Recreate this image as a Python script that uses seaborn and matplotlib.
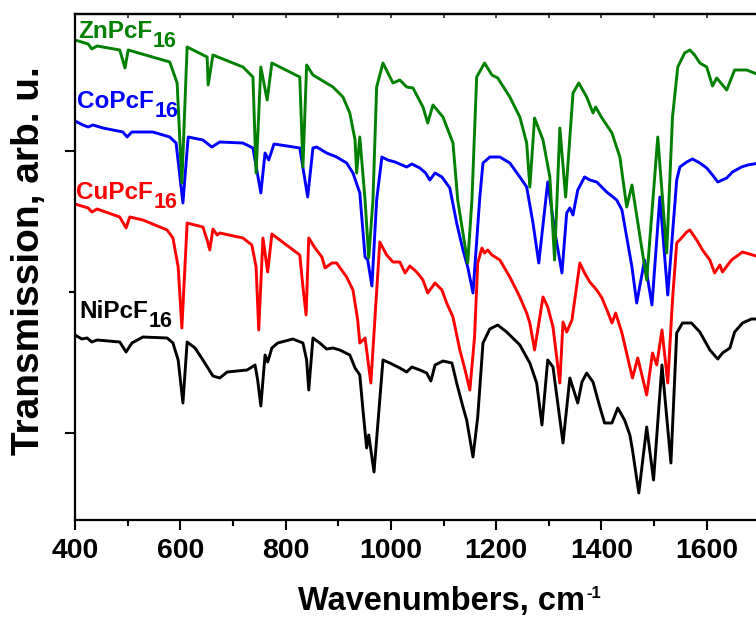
"""
FTIR spectra of MPcF16 (M = Zn, Co, Cu, Ni), stacked with offsets
"""
import matplotlib
matplotlib.use('Agg')
import matplotlib.pyplot as plt
import pandas as pd
import seaborn as sns
from matplotlib.ticker import FixedLocator

# (wavenumber cm-1, transmission arb. u. incl. offset)
ZN_PCF16 = [(400, 480), (425, 476), (432, 471), (442, 474), (485, 470), (495, 452), (501, 470), (580, 458),
            (594, 437), (603, 337), (613, 473), (651, 463), (653, 435), (662, 465), (719, 453), (738, 443),
            (744, 347), (753, 453), (765, 420), (774, 457), (827, 443), (833, 353), (840, 455), (852, 445),
            (890, 433), (909, 423), (922, 407), (932, 380), (935, 347), (941, 383), (951, 320), (958, 262),
            (966, 320), (973, 433), (985, 457), (1004, 437), (1017, 440), (1030, 433), (1042, 432),
            (1061, 413), (1070, 397), (1080, 415), (1099, 403), (1118, 377), (1127, 320), (1146, 257),
            (1154, 320), (1163, 443), (1178, 457), (1192, 445), (1203, 442), (1226, 423), (1245, 403),
            (1258, 377), (1264, 333), (1273, 402), (1289, 380), (1302, 343), (1311, 260), (1321, 392),
            (1332, 323), (1346, 427), (1357, 437), (1372, 423), (1384, 407), (1389, 413), (1401, 402),
            (1420, 387), (1435, 363), (1448, 313), (1458, 335), (1486, 240), (1507, 383), (1524, 267),
            (1535, 403), (1545, 453), (1558, 467), (1568, 470), (1577, 465), (1587, 457), (1600, 453),
            (1611, 434), (1619, 442), (1638, 430), (1653, 450), (1676, 450), (1700, 445)]

CO_PCF16 = [(400, 399), (415, 395), (425, 393), (434, 395), (453, 392), (491, 388), (499, 383), (508, 388),
            (548, 388), (580, 383), (592, 377), (605, 317), (615, 383), (643, 380), (660, 373), (675, 378),
            (719, 377), (738, 372), (753, 327), (761, 367), (768, 360), (778, 376), (827, 372), (842, 323),
            (852, 372), (859, 373), (878, 367), (897, 363), (916, 357), (928, 347), (941, 327), (951, 263),
            (956, 260), (964, 234), (973, 320), (983, 363), (994, 360), (1008, 358), (1030, 353),
            (1040, 356), (1055, 352), (1066, 347), (1074, 340), (1084, 347), (1097, 343), (1112, 332),
            (1125, 297), (1137, 270), (1146, 253), (1156, 227), (1169, 323), (1175, 357), (1188, 363),
            (1207, 363), (1226, 357), (1245, 343), (1258, 333), (1270, 297), (1281, 257), (1298, 338),
            (1311, 290), (1325, 247), (1334, 307), (1340, 312), (1346, 305), (1355, 330), (1368, 343),
            (1378, 340), (1391, 338), (1410, 328), (1429, 320), (1439, 310), (1448, 283), (1458, 253),
            (1467, 217), (1482, 260), (1496, 215), (1511, 323), (1526, 225), (1543, 340), (1549, 353),
            (1562, 358), (1573, 361), (1587, 357), (1600, 352), (1611, 345), (1621, 338), (1638, 342),
            (1649, 348), (1666, 353), (1678, 355), (1700, 357)]

CU_PCF16 = [(400, 316), (425, 312), (432, 308), (442, 311), (485, 303), (497, 292), (504, 303), (529, 300),
            (575, 290), (586, 282), (596, 253), (603, 192), (613, 297), (643, 293), (651, 280), (656, 270),
            (662, 291), (670, 285), (675, 287), (719, 282), (736, 275), (744, 253), (749, 190), (757, 282),
            (766, 248), (774, 286), (827, 265), (833, 233), (839, 205), (844, 282), (856, 272), (869, 263),
            (875, 252), (888, 257), (897, 257), (916, 243), (928, 230), (937, 200), (941, 177), (951, 182),
            (962, 137), (972, 220), (979, 278), (992, 265), (1004, 258), (1017, 258), (1027, 247),
            (1036, 254), (1049, 248), (1061, 240), (1070, 227), (1084, 237), (1097, 230), (1106, 217),
            (1118, 203), (1131, 170), (1141, 150), (1150, 130), (1159, 183), (1165, 257), (1173, 272),
            (1178, 267), (1184, 270), (1192, 265), (1207, 260), (1226, 243), (1245, 223), (1258, 207),
            (1264, 197), (1273, 170), (1283, 203), (1289, 223), (1298, 213), (1308, 193), (1321, 137),
            (1327, 198), (1334, 188), (1344, 200), (1359, 257), (1368, 247), (1378, 238), (1391, 230),
            (1401, 222), (1412, 208), (1420, 197), (1427, 207), (1439, 187), (1454, 153), (1459, 142),
            (1469, 162), (1486, 125), (1497, 167), (1505, 155), (1515, 190), (1526, 137), (1535, 220),
            (1543, 277), (1552, 282), (1562, 288), (1568, 290), (1581, 280), (1592, 270), (1606, 260),
            (1615, 247), (1625, 255), (1630, 248), (1647, 260), (1668, 268), (1700, 263)]

NI_PCF16 = [(400, 185), (413, 181), (423, 182), (432, 178), (442, 180), (485, 178), (497, 168), (508, 177),
            (529, 183), (575, 182), (586, 177), (596, 160), (605, 117), (613, 178), (628, 172), (643, 160),
            (662, 144), (675, 142), (689, 148), (727, 150), (742, 155), (747, 140), (753, 114), (761, 165),
            (766, 158), (774, 172), (785, 177), (814, 181), (833, 177), (840, 160), (844, 130), (852, 182),
            (865, 177), (878, 171), (890, 172), (903, 170), (922, 165), (932, 152), (941, 145), (947, 110),
            (954, 72), (958, 85), (968, 48), (985, 160), (998, 157), (1017, 152), (1030, 148), (1040, 153),
            (1055, 150), (1068, 147), (1076, 139), (1084, 155), (1099, 159), (1116, 157), (1125, 137),
            (1137, 113), (1144, 100), (1156, 63), (1165, 103), (1175, 177), (1188, 191), (1203, 195),
            (1220, 188), (1245, 175), (1264, 157), (1277, 137), (1287, 95), (1298, 160), (1308, 153),
            (1327, 77), (1340, 142), (1355, 117), (1363, 138), (1372, 147), (1384, 138), (1397, 113),
            (1406, 97), (1420, 97), (1431, 112), (1444, 100), (1454, 85), (1459, 70), (1471, 27), (1486, 93),
            (1499, 40), (1515, 155), (1532, 57), (1543, 187), (1554, 197), (1571, 197), (1587, 188),
            (1606, 170), (1621, 161), (1630, 167), (1644, 172), (1653, 188), (1668, 197), (1685, 201),
            (1700, 201)]

SAMPLES = ['NiPcF', 'CuPcF', 'CoPcF', 'ZnPcF']
SPECTRA = [NI_PCF16, CU_PCF16, CO_PCF16, ZN_PCF16]
COLORS = {'NiPcF': '#000000', 'CuPcF': '#ff0000', 'CoPcF': '#0000ff', 'ZnPcF': '#008000'}
# label baseline anchors (figure pixels, from top-left)
LABEL_POS = {'ZnPcF': (78, 38), 'CoPcF': (77, 108), 'CuPcF': (76, 199), 'NiPcF': (79, 318)}

X_LIMITS = (400, 1800)
X_MAJOR = [400, 600, 800, 1000, 1200, 1400, 1600]
X_MINOR = [500, 700, 900, 1100, 1300, 1500, 1700]
Y_LIMITS = (0, 506)
Y_MAJOR = [87, 369]
Y_MINOR = [228]

W, H = 756, 617

if __name__ == '__main__':
    frames = []
    for name, spectrum in zip(SAMPLES, SPECTRA):
        part = pd.DataFrame(spectrum, columns=['wavenumber', 'transmission'])
        part['sample'] = name
        frames.append(part)
    df = pd.concat(frames, ignore_index=True)

    sns.set_theme(style='ticks')
    plt.rcParams['font.family'] = ['Liberation Sans', 'DejaVu Sans']
    plt.rcParams['font.weight'] = 'bold'
    plt.rcParams['lines.solid_joinstyle'] = 'round'

    fig = plt.figure(figsize=(W / 100, H / 100), dpi=100)
    # axis runs to 1800 cm-1, the right part is cut off by the figure edge as in the source image
    ax = fig.add_axes([75 / W, 1 - 520 / H, 737 / W, 506 / H])

    sns.lineplot(data=df, x='wavenumber', y='transmission', hue='sample', hue_order=SAMPLES,
                 palette=COLORS, estimator=None, sort=False, linewidth=2.1, legend=False, ax=ax)

    ax.set_xlim(*X_LIMITS)
    ax.set_ylim(*Y_LIMITS)
    ax.set_xlabel('')
    ax.set_ylabel('')

    ax.xaxis.set_major_locator(FixedLocator(X_MAJOR))
    ax.xaxis.set_minor_locator(FixedLocator(X_MINOR))
    ax.yaxis.set_major_locator(FixedLocator(Y_MAJOR))
    ax.yaxis.set_minor_locator(FixedLocator(Y_MINOR))
    ax.set_yticklabels([])
    ax.tick_params(which='major', direction='out', length=7, width=1.5, color='black')
    ax.tick_params(which='minor', direction='out', length=4, width=1.5, color='black')
    ax.tick_params(axis='x', labelsize=20.5, pad=6, labelcolor='black')
    for lbl in ax.get_xticklabels():
        lbl.set_fontweight('bold')

    top = ax.secondary_xaxis('top')
    top.xaxis.set_major_locator(FixedLocator(X_MAJOR))
    top.xaxis.set_minor_locator(FixedLocator(X_MINOR))
    top.tick_params(which='both', direction='in', length=3, width=1.2, labeltop=False)
    top.spines['top'].set_linewidth(1.6)

    for side in ['left', 'bottom', 'top']:
        ax.spines[side].set_linewidth(1.6)
        ax.spines[side].set_color('black')
    ax.spines['right'].set_visible(False)

    for name in SAMPLES:
        px, py = LABEL_POS[name]
        main = fig.text(px / W, 1 - py / H, name, color=COLORS[name], fontsize=17.5,
                        fontweight='bold', va='baseline', ha='left')
        ax.annotate('16', xy=(1, 0), xycoords=main, xytext=(0.5, -3), textcoords='offset points',
                    color=COLORS[name], fontsize=15.5, fontweight='bold', va='baseline', ha='left')

    xlab = fig.text(442 / W, 1 - 610 / H, 'Wavenumbers, cm', fontsize=23.5, fontweight='bold',
                    ha='center', va='baseline', color='black')
    ax.annotate('-1', xy=(1, 1), xycoords=xlab, xytext=(0.5, -9), textcoords='offset points',
                fontsize=12, fontweight='bold', va='baseline', ha='left', color='black')
    fig.text(29 / W, 1 - 261 / H, 'Transmission, arb. u.', fontsize=28, fontweight='bold',
             ha='center', va='center', rotation=90, color='black')

    fig.savefig('out.png', dpi=100)
    plt.close(fig)
